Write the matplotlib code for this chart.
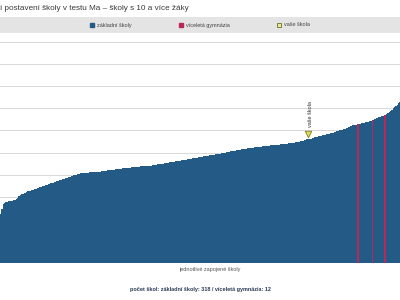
import matplotlib.pyplot as plt
from matplotlib.patches import Rectangle
from matplotlib.lines import Line2D

# vysledky skol serazene vzestupne (relativni postaveni, 0-100)
hodnoty = [
    22.0, 24.5, 26.8, 27.3, 27.6, 27.8, 27.9, 28.0, 28.1, 28.2, 28.3, 28.5, 29.0, 29.6, 30.2,
    30.6, 31.0, 31.3, 31.6, 31.9, 32.2, 32.4, 32.6, 32.8, 33.0, 33.2, 33.4, 33.6, 33.9, 34.1,
    34.3, 34.5, 34.7, 34.9, 35.1, 35.3, 35.5, 35.8, 36.0, 36.2, 36.4, 36.6, 36.8, 37.0, 37.2,
    37.4, 37.6, 37.8, 38.0, 38.2, 38.4, 38.6, 38.8, 39.0, 39.2, 39.4, 39.6, 39.8, 40.0, 40.2,
    40.4, 40.5, 40.6, 40.7, 40.8, 40.8, 40.9, 40.9, 41.0, 41.0, 41.1, 41.1, 41.2, 41.2, 41.3,
    41.3, 41.4, 41.5, 41.6, 41.7, 41.8, 41.8, 41.9, 42.0, 42.1, 42.2, 42.2, 42.3, 42.4, 42.5,
    42.5, 42.6, 42.7, 42.8, 42.8, 42.9, 43.0, 43.0, 43.1, 43.2, 43.3, 43.3, 43.4, 43.5, 43.5,
    43.6, 43.6, 43.7, 43.7, 43.8, 43.8, 43.9, 43.9, 44.0, 44.0, 44.1, 44.2, 44.3, 44.4, 44.5,
    44.6, 44.7, 44.8, 44.9, 45.0, 45.1, 45.2, 45.3, 45.4, 45.5, 45.6, 45.7, 45.8, 45.9, 46.0,
    46.1, 46.2, 46.3, 46.4, 46.5, 46.6, 46.7, 46.8, 46.9, 47.0, 47.1, 47.2, 47.3, 47.4, 47.5,
    47.6, 47.8, 47.9, 48.0, 48.1, 48.2, 48.3, 48.4, 48.5, 48.6, 48.7, 48.8, 48.9, 49.0, 49.1,
    49.2, 49.3, 49.4, 49.5, 49.6, 49.7, 49.8, 50.0, 50.1, 50.2, 50.4, 50.5, 50.6, 50.8, 50.9,
    51.0, 51.1, 51.2, 51.3, 51.4, 51.5, 51.6, 51.7, 51.8, 51.9, 52.0, 52.1, 52.2, 52.2, 52.3,
    52.4, 52.5, 52.5, 52.6, 52.7, 52.8, 52.8, 52.9, 53.0, 53.0, 53.1, 53.2, 53.2, 53.3, 53.4,
    53.4, 53.5, 53.6, 53.6, 53.7, 53.8, 53.8, 53.9, 54.0, 54.0, 54.1, 54.2, 54.3, 54.4, 54.5,
    54.6, 54.7, 54.8, 54.9, 55.0, 55.2, 55.4, 55.5, 55.7, 55.9, 56.0, 56.2, 56.3, 56.5, 56.7,
    56.8, 57.0, 57.1, 57.3, 57.4, 57.6, 57.7, 57.9, 58.0, 58.2, 58.3, 58.5, 58.6, 58.8, 59.0,
    59.2, 59.4, 59.6, 59.8, 60.0, 60.2, 60.4, 60.6, 60.8, 61.0, 61.3, 61.6, 61.9, 62.1, 62.3,
    62.4, 62.5, 62.6, 62.8, 62.9, 63.0, 63.2, 63.3, 63.5, 63.6, 63.8, 63.9, 64.1, 64.3, 64.6,
    64.9, 65.2, 65.5, 65.8, 66.0, 66.2, 66.4, 66.6, 66.8, 67.0, 67.3, 67.7, 68.2, 68.8, 69.4,
    70.0, 70.5, 71.0, 71.6, 72.2, 73.0, 73.8, 74.6, 75.4, 76.2, 77.0, 77.8, 78.6, 79.4, 80.2,
    81.0, 81.8, 82.6, 83.5, 84.4, 85.3, 86.2, 87.1, 88.0, 89.0, 90.0, 91.0, 92.0, 93.5, 95.0,
]
# poradi skol, ktere jsou viceleta gymnazia
gymnazia = [273, 284, 293, 294, 309, 312, 316, 319, 321, 324, 326, 328]
vase_skola = 235

titulek = "í postavení školy v testu Ma – školy s 10 a více žáky"
legenda = ["základní školy", "víceletá gymnázia", "vaše škola"]
popis_x = "jednotlivé zapojené školy"
pocet = "počet škol: základní školy: 318 / víceletá gymnázia: 12"

modra = "#245a86"
cervena = "#b8285a"

plt.rcParams['font.family'] = ['Liberation Sans', 'DejaVu Sans']

fig = plt.figure(figsize=(4, 3), dpi=100)
fig.patch.set_facecolor("white")

ax = fig.add_axes([0.0, 1 - 263 / 300, 1.08, 221 / 300])
barvy = [cervena if i in gymnazia else modra for i in range(len(hodnoty))]
ax.bar(range(len(hodnoty)), hodnoty, width=1.0, color=barvy, edgecolor="none", zorder=2)
ax.set_xlim(-0.5, len(hodnoty) - 0.5)
ax.set_ylim(0, 100)
ax.set_yticks(range(0, 101, 10))
ax.grid(axis="y", color="#d8d8d8", linewidth=0.7, zorder=0)
ax.tick_params(left=False, bottom=False, labelleft=False, labelbottom=False)
for s in ax.spines.values():
    s.set_visible(False)

# vase skola
v = hodnoty[vase_skola]
ax.scatter([vase_skola], [v + 2.3], marker="v", s=22, facecolor="#dede5a",
           edgecolor="#7d7d1e", linewidth=0.6, zorder=4)
ax.text(vase_skola + 1.5, v + 5.5, legenda[2], rotation=90, ha="center", va="bottom",
        fontsize=4, color="#333333", zorder=4)

# titulek a legenda
fig.text(0.0, 1 - 8 / 300, titulek, ha="left", va="center", fontsize=5.9, color="#3a3a3a")
fig.patches.append(Rectangle((0, 1 - 33 / 300), 1, 16 / 300, transform=fig.transFigure,
                             facecolor="#e4e4e4", edgecolor="none", zorder=0))
handles = [
    Line2D([], [], marker="s", linestyle="none", markersize=3, markerfacecolor=modra,
           markeredgecolor=modra),
    Line2D([], [], marker="s", linestyle="none", markersize=3, markerfacecolor=cervena,
           markeredgecolor=cervena),
    Line2D([], [], marker="s", linestyle="none", markersize=3, markerfacecolor="#e8e8a0",
           markeredgecolor="#6f6f1e", markeredgewidth=0.6),
]
fig.legend(handles, legenda, loc="center", bbox_to_anchor=(0.5, 1 - 25 / 300), ncol=3,
           frameon=False, fontsize=4, handlelength=0.8, handletextpad=0.5,
           columnspacing=8.5, labelcolor="#444444")

fig.text(0.525, 1 - 270 / 300, popis_x, ha="center", va="center", fontsize=4, color="#555555")
fig.text(0.5, 1 - 290 / 300, pocet, ha="center", va="center", fontsize=4,
         fontweight="bold", color="#2a3a55")

fig.savefig("out.png", dpi=100)
